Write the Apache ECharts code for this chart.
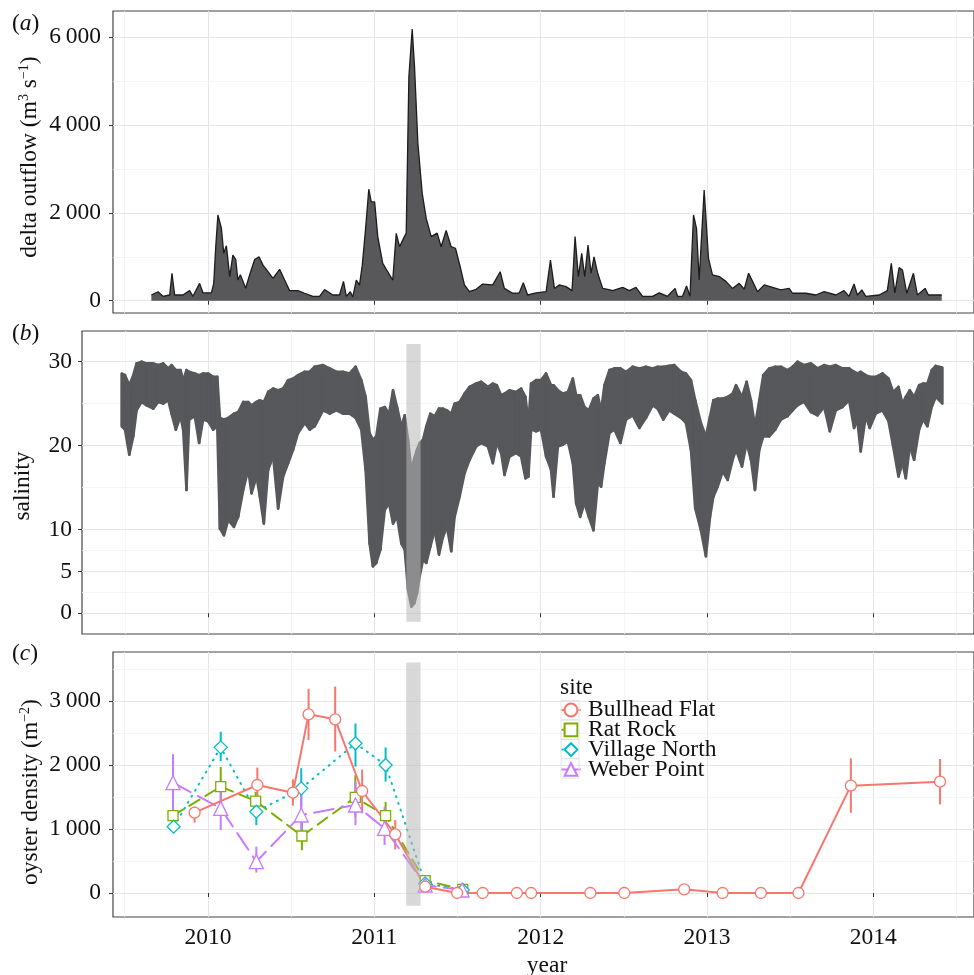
<!DOCTYPE html>
<html>
<head>
<meta charset="utf-8">
<script src="https://cdn.jsdelivr.net/npm/echarts@6/dist/echarts.min.js"></script>
<style>
  html, body { margin: 0; padding: 0; background: #fff; }
  #chart { width: 974px; height: 975px; }
</style>
</head>
<body>
<div id="chart"></div>
<script>
// (a) delta outflow, m3/s
const flowYears = [2009.660, 2009.700, 2009.730, 2009.770, 2009.784, 2009.800, 2009.850, 2009.890, 2009.910, 2009.950,
  2009.970, 2010.021, 2010.035, 2010.047, 2010.060, 2010.081, 2010.095, 2010.111, 2010.131, 2010.150,
  2010.167, 2010.180, 2010.195, 2010.211, 2010.227, 2010.251, 2010.281, 2010.307, 2010.331, 2010.361,
  2010.391, 2010.431, 2010.461, 2010.491, 2010.541, 2010.581, 2010.631, 2010.671, 2010.701, 2010.751,
  2010.791, 2010.815, 2010.832, 2010.856, 2010.871, 2010.892, 2010.911, 2010.928, 2010.947, 2010.967,
  2010.982, 2011.002, 2011.021, 2011.051, 2011.081, 2011.111, 2011.122, 2011.132, 2011.152, 2011.176,
  2011.192, 2011.208, 2011.228, 2011.242, 2011.262, 2011.288, 2011.312, 2011.342, 2011.378, 2011.402,
  2011.432, 2011.462, 2011.488, 2011.516, 2011.542, 2011.572, 2011.612, 2011.652, 2011.712, 2011.757,
  2011.782, 2011.832, 2011.872, 2011.896, 2011.922, 2011.973, 2012.033, 2012.059, 2012.083, 2012.113,
  2012.153, 2012.189, 2012.207, 2012.227, 2012.247, 2012.265, 2012.285, 2012.303, 2012.321, 2012.343,
  2012.373, 2012.403, 2012.433, 2012.493, 2012.533, 2012.573, 2012.613, 2012.673, 2012.713, 2012.763,
  2012.808, 2012.823, 2012.853, 2012.877, 2012.898, 2012.919, 2012.937, 2012.953, 2012.983, 2013.009,
  2013.033, 2013.074, 2013.114, 2013.153, 2013.194, 2013.224, 2013.250, 2013.274, 2013.304, 2013.344,
  2013.394, 2013.444, 2013.494, 2013.514, 2013.594, 2013.654, 2013.704, 2013.775, 2013.824, 2013.854,
  2013.884, 2013.904, 2013.931, 2013.955, 2014.035, 2014.084, 2014.108, 2014.129, 2014.155, 2014.175,
  2014.201, 2014.241, 2014.265, 2014.311, 2014.331, 2014.411];
const flowValues = [130, 205, 100, 130, 625, 130, 130, 230, 100, 395,
  180, 180, 395, 1230, 1954, 1650, 1080, 1250, 550, 1040,
  940, 470, 590, 440, 285, 590, 940, 1000, 810, 660,
  510, 715, 470, 230, 230, 170, 100, 100, 255, 130,
  130, 440, 100, 205, 85, 470, 355, 810, 1610, 2540,
  2250, 2250, 1460, 850, 660, 470, 470, 1535, 1230, 1420,
  1540, 5100, 6190, 5330, 3590, 2450, 1880, 1460, 1540, 1230,
  1600, 1230, 1195, 780, 360, 205, 260, 380, 360, 660,
  280, 170, 180, 410, 130, 180, 205, 928, 280, 360,
  320, 230, 1460, 550, 1080, 550, 1270, 625, 1000, 625,
  280, 260, 230, 305, 230, 305, 100, 100, 180, 100,
  280, 100, 100, 335, 100, 1954, 1650, 470, 2520, 965,
  590, 550, 440, 280, 395, 260, 625, 440, 205, 360,
  305, 245, 280, 170, 170, 130, 205, 130, 230, 100,
  380, 130, 245, 100, 130, 230, 850, 180, 755, 700,
  170, 625, 130, 280, 130, 130];

// (b) salinity: spread of the logger readings (lowest and highest)
const salYears = [2009.480, 2009.500, 2009.526, 2009.550, 2009.570, 2009.600, 2009.630, 2009.670, 2009.700, 2009.730,
  2009.760, 2009.780, 2009.806, 2009.834, 2009.850, 2009.870, 2009.886, 2009.920, 2009.946, 2009.970,
  2010.000, 2010.030, 2010.055, 2010.071, 2010.095, 2010.121, 2010.155, 2010.181, 2010.211, 2010.241,
  2010.261, 2010.291, 2010.311, 2010.335, 2010.361, 2010.391, 2010.421, 2010.451, 2010.481, 2010.511,
  2010.541, 2010.581, 2010.611, 2010.641, 2010.691, 2010.731, 2010.771, 2010.811, 2010.851, 2010.887,
  2010.921, 2010.947, 2010.971, 2010.991, 2011.011, 2011.036, 2011.062, 2011.088, 2011.112, 2011.136,
  2011.162, 2011.182, 2011.202, 2011.222, 2011.240, 2011.256, 2011.272, 2011.292, 2011.312, 2011.336,
  2011.362, 2011.388, 2011.412, 2011.436, 2011.462, 2011.482, 2011.512, 2011.542, 2011.572, 2011.612,
  2011.642, 2011.682, 2011.712, 2011.736, 2011.762, 2011.782, 2011.812, 2011.852, 2011.882, 2011.908,
  2011.926, 2011.942, 2011.972, 2012.002, 2012.032, 2012.062, 2012.077, 2012.103, 2012.133, 2012.163,
  2012.193, 2012.213, 2012.237, 2012.263, 2012.289, 2012.317, 2012.343, 2012.363, 2012.383, 2012.413,
  2012.443, 2012.479, 2012.513, 2012.553, 2012.593, 2012.633, 2012.673, 2012.703, 2012.737, 2012.773,
  2012.803, 2012.843, 2012.873, 2012.903, 2012.929, 2012.963, 2012.993, 2013.018, 2013.038, 2013.064,
  2013.094, 2013.124, 2013.154, 2013.174, 2013.210, 2013.238, 2013.264, 2013.288, 2013.314, 2013.338,
  2013.374, 2013.410, 2013.444, 2013.484, 2013.514, 2013.544, 2013.584, 2013.624, 2013.664, 2013.704,
  2013.738, 2013.774, 2013.814, 2013.854, 2013.884, 2013.904, 2013.924, 2013.954, 2013.978, 2014.014,
  2014.055, 2014.091, 2014.119, 2014.151, 2014.175, 2014.195, 2014.219, 2014.245, 2014.275, 2014.299,
  2014.325, 2014.351, 2014.375, 2014.415];
const salHigh = [28.6, 28.4, 27.2, 28.4, 29.8, 30.0, 29.8, 29.8, 29.6, 29.8,
  29.2, 29.6, 29.0, 29.0, 27.8, 29.0, 28.8, 28.6, 28.4, 28.6,
  28.6, 28.2, 28.2, 23.3, 23.1, 23.3, 23.8, 24.0, 25.2, 25.2,
  24.8, 25.2, 25.4, 25.2, 26.4, 26.8, 26.6, 26.8, 27.8, 28.0,
  28.4, 28.8, 28.8, 29.4, 29.6, 29.2, 28.8, 28.8, 28.6, 29.4,
  27.8, 25.8, 21.5, 20.7, 21.1, 24.4, 24.6, 23.8, 26.6, 24.6,
  22.3, 23.6, 20.7, 17.1, 18.5, 19.5, 20.3, 20.7, 22.3, 23.8,
  23.5, 24.4, 24.4, 24.2, 23.8, 25.0, 25.2, 26.2, 27.0, 27.4,
  27.6, 27.0, 27.4, 27.2, 26.0, 26.2, 26.6, 26.4, 26.8, 25.8,
  22.7, 27.4, 27.8, 27.8, 28.6, 27.2, 27.2, 26.6, 26.2, 26.4,
  28.0, 26.0, 26.0, 24.6, 24.2, 25.6, 26.0, 24.2, 27.2, 29.0,
  29.2, 29.2, 28.8, 29.4, 29.2, 29.4, 29.2, 29.4, 29.4, 29.5,
  29.6, 28.8, 28.6, 27.8, 25.4, 22.7, 21.1, 23.5, 25.4, 25.6,
  25.6, 25.8, 26.2, 27.2, 25.8, 27.6, 25.4, 22.3, 25.4, 28.4,
  29.2, 29.4, 29.4, 29.0, 29.4, 30.0, 29.6, 29.8, 29.2, 29.6,
  29.4, 29.6, 29.2, 29.2, 28.8, 28.6, 28.8, 28.4, 28.2, 28.2,
  28.6, 28.0, 26.4, 27.0, 25.0, 25.8, 26.6, 25.8, 27.2, 27.4,
  27.4, 29.0, 29.5, 29.3];
const salLow = [22.3, 21.9, 18.9, 21.1, 24.2, 25.2, 24.8, 24.4, 25.2, 25.0,
  25.4, 23.8, 21.9, 23.5, 21.9, 14.7, 23.1, 23.5, 20.3, 23.1,
  22.9, 21.9, 22.3, 10.1, 9.3, 11.1, 10.3, 11.5, 14.7, 17.1,
  14.3, 16.3, 13.9, 10.7, 17.1, 18.7, 12.5, 16.3, 17.9, 19.5,
  21.5, 22.7, 21.9, 22.3, 24.2, 23.8, 24.2, 23.8, 23.8, 23.3,
  21.9, 17.1, 8.3, 5.6, 6.0, 7.6, 12.3, 13.1, 10.7, 11.5,
  8.3, 7.6, 2.8, 0.8, 1.2, 2.4, 4.4, 6.4, 6.0, 7.9,
  9.9, 7.0, 9.1, 10.3, 7.4, 11.5, 13.9, 16.7, 18.3, 19.9,
  20.3, 19.9, 17.9, 20.3, 19.1, 16.5, 18.7, 19.1, 18.7, 16.1,
  16.3, 21.9, 21.7, 21.9, 18.7, 17.1, 13.9, 19.9, 20.1, 20.5,
  17.9, 13.1, 11.5, 13.1, 11.5, 9.9, 15.5, 15.1, 17.9, 21.5,
  21.9, 20.3, 23.1, 23.6, 22.1, 23.3, 24.8, 24.4, 23.1, 24.2,
  23.8, 23.3, 22.7, 19.5, 12.5, 9.9, 6.8, 11.5, 13.9, 15.1,
  16.9, 15.9, 18.3, 19.5, 17.5, 20.3, 18.3, 14.7, 19.5, 21.1,
  21.1, 21.9, 23.1, 23.5, 24.2, 24.8, 25.2, 24.0, 23.6, 24.6,
  21.7, 24.2, 24.6, 25.4, 22.1, 22.9, 19.3, 23.5, 22.1, 23.8,
  24.2, 22.9, 19.9, 16.3, 17.9, 16.1, 19.9, 18.3, 21.9, 23.1,
  22.3, 24.6, 25.8, 25.0];

// shaded period (early 2011 low-salinity event)
const shadeYears = [2011.192, 2011.278];
const shadeSalinity = [-1.0, 32.1];
const shadeDensity = [-200, 3600];

// (c) oyster density, m-2, with error bars
const bfYears = [2009.920, 2010.297, 2010.511, 2010.605, 2010.765, 2010.927, 2011.126, 2011.306, 2011.498, 2011.652,
  2011.857, 2011.943, 2012.299, 2012.503, 2012.863, 2013.094, 2013.324, 2013.550, 2013.865, 2014.401];
const bfDensity = [1255, 1688, 1568, 2792, 2714, 1594, 917, 99, 0, 0, 0, 0, 0, 0, 57, 0, 0, 0, 1677, 1740];
const bfLow = [1100, 1450, 1365, 2390, 2210, 1245, 680, null, null, null, null, null, null, null, null, null, null, null, 1255, 1385];
const bfHigh = [1350, 1960, 1775, 3190, 3225, 1930, 1140, null, null, null, null, null, null, null, null, null, null, null, 2104, 2094];

const rrYears = [2009.790, 2010.077, 2010.287, 2010.565, 2010.886, 2011.068, 2011.306, 2011.532];
const rrDensity = [1208, 1661, 1437, 891, 1495, 1208, 193, 57];
const rrLow = [1120, 1350, 1300, 670, 1190, 985, null, null];
const rrHigh = [1300, 1970, 1580, 1100, 1840, 1425, null, null];

const vnYears = [2009.794, 2010.077, 2010.291, 2010.561, 2010.887, 2011.068, 2011.306, 2011.532];
const vnDensity = [1036, 2276, 1271, 1635, 2339, 2000, 150, 47];
const vnLow = [980, 2060, 1060, 1350, 1975, 1740, null, null];
const vnHigh = [1100, 2520, 1505, 1950, 2650, 2275, null, null];

const wpYears = [2009.790, 2010.077, 2010.291, 2010.561, 2010.887, 2011.062, 2011.306, 2011.528];
const wpDensity = [1724, 1323, 490, 1219, 1375, 1010, 125, 47];
const wpLow = [1250, 985, 320, 930, 1060, 750, null, null];
const wpHigh = [2170, 1660, 725, 1585, 1740, 1350, null, null];

// ticks and grid lines
const yearTicks = [2010, 2011, 2012, 2013, 2014];
const yearGrid = [2009.5, 2010, 2010.5, 2011, 2011.5, 2012, 2012.5, 2013, 2013.5, 2014, 2014.5];
const flowTicks = [0, 2000, 4000, 6000];
const flowGrid = [0, 1000, 2000, 3000, 4000, 5000, 6000];
const salTicks = [0, 5, 10, 20, 30];
const salGrid = [0, 2.5, 5, 7.5, 10, 15, 20, 25, 30];
const densTicks = [0, 1000, 2000, 3000];
const densGrid = [0, 500, 1000, 1500, 2000, 2500, 3000, 3500];

const FONT = '"Liberation Serif", "DejaVu Serif", serif';
const FS = 23.5;
const TXT = '#111';

const fmt = v => String(v).replace(/\B(?=(\d{3})+(?!\d))/g, '\u2009');

const majorLine = { color: '#e6e6e6', width: 1, type: 'solid' };
const minorLine = { color: '#f2f2f2', width: 0.8, type: 'solid' };

function gridSeries(idx, xs, ys, majorX, majorY) {
    const data = [];
    xs.forEach(v => data.push({ xAxis: v, lineStyle: majorX.includes(v) ? majorLine : minorLine }));
    ys.forEach(v => data.push({ yAxis: v, lineStyle: majorY.includes(v) ? majorLine : minorLine }));
    return {
        type: 'line', xAxisIndex: idx, yAxisIndex: idx, data: [], silent: true, z: 0,
        markLine: { silent: true, z: 0, symbol: ['none', 'none'], label: { show: false },
            emphasis: { disabled: true }, animation: false, data: data }
    };
}

function xAxisFor(idx, min, showLabels) {
    return {
        type: 'value', gridIndex: idx, min: min, max: 2014.6051,
        axisLine: { show: false }, splitLine: { show: false },
        axisTick: { show: true, length: 4, lineStyle: { color: '#333' }, customValues: yearTicks },
        axisLabel: { show: showLabels, customValues: yearTicks, margin: 9, fontFamily: FONT,
            fontSize: FS, color: TXT, formatter: v => String(v) }
    };
}

function yAxisFor(idx, min, max, ticks, margin) {
    return {
        type: 'value', gridIndex: idx, min: min, max: max,
        axisLine: { show: false }, splitLine: { show: false },
        axisTick: { show: true, length: 4, lineStyle: { color: '#333' }, customValues: ticks },
        axisLabel: { customValues: ticks, margin: margin, fontFamily: FONT, fontSize: FS,
            color: TXT, formatter: v => fmt(v) }
    };
}

function shadeSeries(idx, ys) {
    return {
        type: 'custom', xAxisIndex: idx, yAxisIndex: idx, silent: true, z: 6,
        data: [[shadeYears[0], shadeYears[1], ys[0], ys[1]]],
        encode: { x: [0, 1], y: [2, 3] },
        renderItem: (params, api) => {
            const p0 = api.coord([api.value(0), api.value(3)]);
            const p1 = api.coord([api.value(1), api.value(2)]);
            return { type: 'rect', shape: { x: p0[0], y: p0[1], width: p1[0] - p0[0], height: p1[1] - p0[1] },
                style: { fill: 'rgba(184,184,184,0.55)' } };
        }
    };
}

function errorSeries(name, years, low, high, color) {
    const data = [];
    years.forEach((y, i) => { if (low[i] != null) data.push([y, low[i], high[i]]); });
    return {
        type: 'custom', name: name + ' err', xAxisIndex: 2, yAxisIndex: 2, silent: true, z: 2,
        data: data, encode: { x: 0, y: [1, 2] },
        renderItem: (params, api) => {
            const a = api.coord([api.value(0), api.value(1)]);
            const b = api.coord([api.value(0), api.value(2)]);
            return { type: 'line', shape: { x1: a[0], y1: a[1], x2: b[0], y2: b[1] },
                style: { stroke: color, lineWidth: 2 } };
        }
    };
}

function siteSeries(name, years, dens, color, symbol, size, dash) {
    return {
        type: 'line', name: name, xAxisIndex: 2, yAxisIndex: 2, z: 3,
        data: years.map((y, i) => [y, dens[i]]),
        symbol: symbol, symbolSize: size, showSymbol: true,
        itemStyle: { color: '#fff', borderColor: color, borderWidth: 1.3 },
        lineStyle: { color: color, width: 2, type: dash, cap: 'round' },
        emphasis: { disabled: true }
    };
}

const sites = [
    { name: 'Bullhead Flat', color: '#F8766D' },
    { name: 'Rat Rock', color: '#7CAE00' },
    { name: 'Village North', color: '#00BFC4' },
    { name: 'Weber Point', color: '#C77CFF' }
];

const sup = { fontFamily: FONT, fontSize: 14, lineHeight: 13, verticalAlign: 'top', fill: TXT };
const base = { fontFamily: FONT, fontSize: FS, lineHeight: 26, fill: TXT };

function panelLetter(letter, y) {
    return { type: 'text', x: 12, y: y, silent: true,
        style: { text: '{n|(}{i|' + letter + '}{n|)}', verticalAlign: 'middle',
            rich: { n: { fontFamily: FONT, fontSize: FS, fill: TXT },
                i: { fontFamily: FONT, fontSize: FS, fontStyle: 'italic', fill: TXT } } } };
}

function yTitle(text, x, y) {
    return { type: 'text', x: x, y: y, rotation: Math.PI / 2, silent: true,
        style: { text: text, align: 'center', verticalAlign: 'middle', rich: { t: base, s: sup } } };
}

const legendBoxes = [0, 1, 2, 3].map(i => ({
    type: 'rect', silent: true, z: 90,
    shape: { x: 561, y: 700.5 + i * 19.4, width: 18, height: 19.4 },
    style: { fill: 'none', stroke: '#e3e3e3', lineWidth: 1 }
}));

const option = {
    animation: false,
    backgroundColor: '#fff',
    grid: [
        { left: 113, top: 11, width: 862, height: 302, show: true, borderColor: '#444', borderWidth: 1.2, backgroundColor: 'transparent' },
        { left: 82, top: 331, width: 893, height: 303, show: true, borderColor: '#444', borderWidth: 1.2, backgroundColor: 'transparent' },
        { left: 113, top: 652, width: 862, height: 265, show: true, borderColor: '#444', borderWidth: 1.2, backgroundColor: 'transparent' }
    ],
    xAxis: [
        xAxisFor(0, 2009.4294, false),
        xAxisFor(1, 2009.2417, false),
        xAxisFor(2, 2009.4294, true)
    ],
    yAxis: [
        yAxisFor(0, -280, 6599, flowTicks, 12),
        yAxisFor(1, -2.468, 33.66, salTicks, 10),
        yAxisFor(2, -375, 3766, densTicks, 12)
    ],
    legend: {
        data: sites.map(s => s.name),
        orient: 'vertical', left: 561, top: 698, padding: 0,
        itemWidth: 18, itemHeight: 16, itemGap: -4.2,
        selectedMode: false,
        textStyle: { fontFamily: FONT, fontSize: FS, color: TXT, lineHeight: 18, padding: [0, 0, 0, 3] }
    },
    graphic: [
        panelLetter('a', 24),
        panelLetter('b', 334),
        panelLetter('c', 654),
        yTitle('{t|delta outflow (m}{s|3}{t| s}{s|\u22121}{t|)}', 30, 157),
        yTitle('{t|salinity}', 23, 486),
        yTitle('{t|oyster density (m}{s|\u22122}{t|)}', 31, 792),
        { type: 'text', x: 547, y: 966, silent: true,
          style: { text: 'year', align: 'center', verticalAlign: 'middle', fontFamily: FONT, fontSize: FS, fill: TXT } },
        { type: 'text', x: 560, y: 688, silent: true,
          style: { text: 'site', align: 'left', verticalAlign: 'middle', fontFamily: FONT, fontSize: FS, fill: TXT } }
    ].concat(legendBoxes),
    series: [
        gridSeries(0, yearGrid, flowGrid, yearTicks, flowTicks),
        gridSeries(1, yearGrid, salGrid, yearTicks, salTicks),
        gridSeries(2, yearGrid, densGrid, yearTicks, densTicks),
        {
            type: 'line', name: 'delta outflow', xAxisIndex: 0, yAxisIndex: 0, z: 3,
            data: flowYears.map((y, i) => [y, flowValues[i]]),
            showSymbol: false, symbol: 'none', silent: true,
            lineStyle: { color: '#1c1c1c', width: 1.3 },
            areaStyle: { color: '#58585a', opacity: 1 }
        },
        {
            type: 'custom', name: 'salinity', xAxisIndex: 1, yAxisIndex: 1, z: 3, silent: true,
            data: salYears.map((y, i) => [y, salLow[i], salHigh[i]]),
            encode: { x: 0, y: [1, 2] },
            renderItem: (params, api) => {
                const i = params.dataIndexInside;
                if (i >= params.dataInsideLength - 1) return null;
                const x0 = api.value(0), lo0 = api.value(1), hi0 = api.value(2);
                const x1 = api.value(0, i + 1), lo1 = api.value(1, i + 1), hi1 = api.value(2, i + 1);
                return { type: 'polygon',
                    shape: { points: [api.coord([x0, hi0]), api.coord([x1, hi1]), api.coord([x1, lo1]), api.coord([x0, lo0])] },
                    style: { fill: '#57585b', stroke: '#57585b', lineWidth: 2.6, lineJoin: 'round' } };
            }
        },
        shadeSeries(1, shadeSalinity),
        errorSeries('Bullhead Flat', bfYears, bfLow, bfHigh, sites[0].color),
        errorSeries('Rat Rock', rrYears, rrLow, rrHigh, sites[1].color),
        errorSeries('Village North', vnYears, vnLow, vnHigh, sites[2].color),
        errorSeries('Weber Point', wpYears, wpLow, wpHigh, sites[3].color),
        siteSeries('Rat Rock', rrYears, rrDensity, sites[1].color, 'rect', 10, [12, 7]),
        siteSeries('Village North', vnYears, vnDensity, sites[2].color, 'diamond', 13, [1, 6]),
        siteSeries('Weber Point', wpYears, wpDensity, sites[3].color, 'triangle', 14, [20, 8]),
        siteSeries('Bullhead Flat', bfYears, bfDensity, sites[0].color, 'circle', 11, 'solid'),
        shadeSeries(2, shadeDensity)
    ]
};

const chart = echarts.init(document.getElementById('chart'));
chart.setOption(option);
</script>
</body>
</html>
